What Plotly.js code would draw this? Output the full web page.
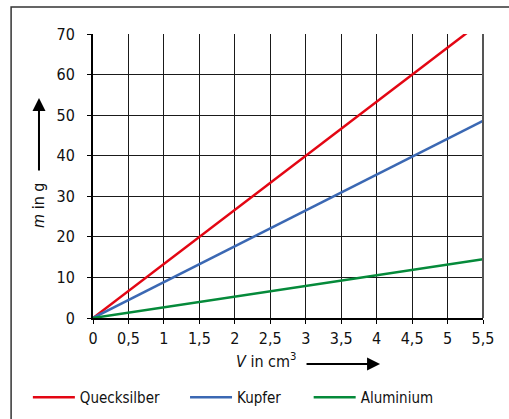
<!DOCTYPE html>
<html><head><meta charset="utf-8">
<script src="https://cdn.plot.ly/plotly-3.0.1.min.js"></script>
<style>html,body{margin:0;padding:0;background:#fff}#c{width:509px;height:419px}</style>
</head><body><div id="c"></div>
<script>
const volume = [0, 5.5];
const quecksilber = [0, 73.3];
const kupfer = [0, 48.6];
const aluminium = [0, 14.5];
const names = ['Quecksilber', 'Kupfer', 'Aluminium'];
const colors = ['#e30613', '#3b68b3', '#058a3a'];
const series = [quecksilber, kupfer, aluminium];
const legendIds = ['legend', 'legend2', 'legend3'];
const legendX = [-0.167, 0.236, 0.553];

const F = 'DejaVu Sans Condensed, DejaVu Sans, sans-serif';
const traces = series.map((s, i) => ({
  x: volume, y: s, type: 'scatter', mode: 'lines', name: names[i], legend: legendIds[i],
  line: {color: colors[i], width: 2.5}
}));

const layout = {
  width: 509, height: 419,
  margin: {l: 93, r: 26, t: 34, b: 101, autoexpand: false},
  separators: ',.',
  paper_bgcolor: '#fff', plot_bgcolor: '#fff',
  font: {family: F, size: 16, color: '#111'},
  showlegend: true,
  xaxis: {range: [0, 5.5], dtick: 0.5, tick0: 0, showgrid: true, gridcolor: '#1a1a1a', gridwidth: 1,
          showline: true, linecolor: '#000', linewidth: 2,
          ticks: 'outside', ticklen: 4, tickcolor: '#000', zeroline: false, ticklabelstandoff: 1},
  yaxis: {range: [0, 70], dtick: 10, showgrid: true, gridcolor: '#1a1a1a', gridwidth: 1,
          showline: true, linecolor: '#000', linewidth: 2,
          ticks: 'outside', ticklen: 4, tickcolor: '#000', zeroline: false, ticklabelstandoff: 9},
  shapes: [
    {type: 'rect', xref: 'paper', yref: 'paper', x0: -0.21, x1: 1.3, y0: -0.6, y1: 1.095,
     line: {color: '#333', width: 1.5}, layer: 'below'},
    {type: 'line', xref: 'paper', yref: 'paper', x0: 1, x1: 1, y0: 0, y1: 1,
     line: {color: '#555', width: 2}}
  ],
  annotations: [
    {xref: 'paper', yref: 'paper', x: -0.1385, y: 0.7746, ax: 0, ay: 74,
     showarrow: true, arrowhead: 2, arrowsize: 1.3, arrowwidth: 2, arrowcolor: '#000', text: ''},
    {xref: 'paper', yref: 'paper', x: -0.1385, y: 0.398, xanchor: 'center', yanchor: 'middle',
     text: '<i>m</i> in g', showarrow: false,
     textangle: -90, font: {family: F, size: 16, color: '#111'}},
    {xref: 'paper', yref: 'paper', x: 0.736, y: -0.162, ax: -75, ay: 0,
     showarrow: true, arrowhead: 2, arrowsize: 1.3, arrowwidth: 2, arrowcolor: '#000', text: ''},
    {xref: 'paper', yref: 'paper', x: 0.526, y: -0.151, xanchor: 'right', yanchor: 'middle',
     text: '<i>V</i> in cm<sup>3</sup>',
     showarrow: false, font: {family: F, size: 16, color: '#111'}}
  ]
};
legendIds.forEach((id, i) => {
  layout[id] = {orientation: 'h', x: legendX[i], xanchor: 'left', y: -0.222, yanchor: 'top',
    font: {family: F, size: 15, color: '#111'}, itemwidth: 42, bgcolor: 'rgba(0,0,0,0)'};
});
Plotly.newPlot('c', traces, layout, {staticPlot: true, displayModeBar: false});
</script></body></html>
